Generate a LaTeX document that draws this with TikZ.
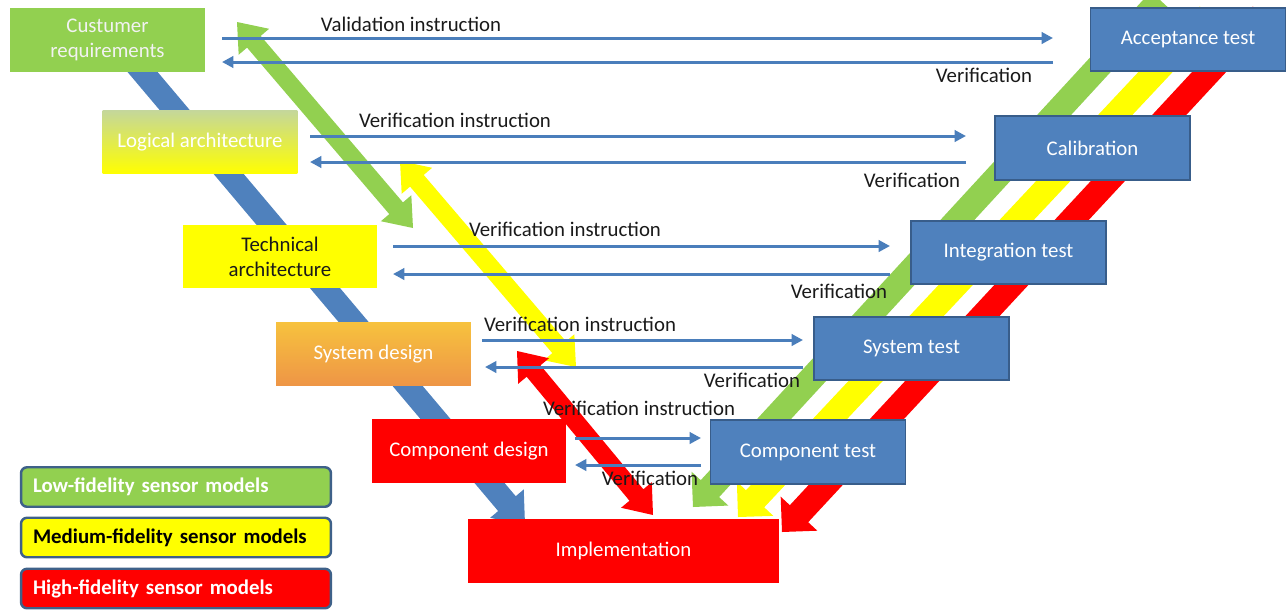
\documentclass[tikz,border=0pt]{standalone}
\usepackage{fontspec}
\setmainfont{Carlito}
\usetikzlibrary{calc,arrows.meta}

\definecolor{vgreen}{HTML}{92D050}
\definecolor{vyellow}{HTML}{FFFF00}
\definecolor{vred}{HTML}{FF0000}
\definecolor{vblue}{HTML}{4F81BD}
\definecolor{vblueedge}{HTML}{385D8A}
\definecolor{flowblue}{HTML}{4A7EBB}
\definecolor{logtop}{HTML}{C4D79B}
\definecolor{systop}{HTML}{F7C23E}
\definecolor{sysmid}{HTML}{F2A44A}
\definecolor{sysbot}{HTML}{EE9546}
\definecolor{legedge}{HTML}{3E6189}
\definecolor{ink}{HTML}{1A1A1A}

\newcommand\txtsize{\fontsize{11.85}{13.8}\selectfont}
\newcommand\twolinesize{\fontsize{11.85}{14.2}\selectfont}

% wide arrow: fill, tail, tip, shaft half-width, head half-width, head length
\newcommand\bandarrow[6]{%
  \path ($(#3)!#6!(#2)$) coordinate (hb);
  \fill[#1] ($(#2)!#4!90:(#3)$) -- ($(hb)!#4!90:(#3)$) -- ($(hb)!#5!90:(#3)$)
    -- (#3) -- ($(hb)!#5!-90:(#3)$) -- ($(hb)!#4!-90:(#3)$)
    -- ($(#2)!#4!-90:(#3)$) -- cycle;}

% wide arrow with a head at both ends
\newcommand\twowayarrow[6]{%
  \path ($(#3)!#6!(#2)$) coordinate (hb) ($(#2)!#6!(#3)$) coordinate (ha);
  \fill[#1] (#2) -- ($(ha)!#5!90:(#3)$) -- ($(ha)!#4!90:(#3)$)
    -- ($(hb)!#4!90:(#3)$) -- ($(hb)!#5!90:(#3)$) -- (#3)
    -- ($(hb)!#5!-90:(#3)$) -- ($(hb)!#4!-90:(#3)$)
    -- ($(ha)!#4!-90:(#3)$) -- ($(ha)!#5!-90:(#3)$) -- cycle;}

\begin{document}
\begin{tikzpicture}[x=0.02cm,y=-0.02cm,
  stage/.style={minimum width=3.9cm,minimum height=1.27cm,inner sep=0pt,
    align=center,font=\txtsize},
  testbox/.style={stage,fill=vblue,draw=vblueedge,line width=1pt,text=white},
  flow/.style={draw=flowblue,line width=1.7pt,-{Triangle[length=6.5pt,width=6.5pt]}},
  lbl/.style={font=\txtsize,text=ink,inner sep=0pt},
  legbox/.style={minimum width=6.2cm,minimum height=0.79cm,inner xsep=0.24cm,
    text width=5.72cm,align=left,rounded corners=0.12cm,draw=legedge,
    line width=1.4pt,font=\txtsize\bfseries}]

\useasboundingbox (0,0) rectangle (1288,610);
\clip (0,0) rectangle (1288,610);

% end points of the wide arrows
\coordinate (bl0) at (124,50);   \coordinate (bl1) at (525,525);
\coordinate (rg0) at (1160,0);   \coordinate (rg1) at (693,507);
\coordinate (ry0) at (1209,15);  \coordinate (ry1) at (738,517);
\coordinate (rr0) at (1262,15);  \coordinate (rr1) at (782,532);
\coordinate (dg0) at (237,22);   \coordinate (dg1) at (413,228);
\coordinate (dy0) at (400,161);  \coordinate (dy1) at (576,367);
\coordinate (dr0) at (517,351);  \coordinate (dr1) at (653,515);

% descending branch and the three ascending model branches
\bandarrow{vblue}{bl0}{bl1}{0.23cm}{0.44cm}{0.56cm}
\bandarrow{vgreen}{rg0}{rg1}{0.25cm}{0.5cm}{0.5cm}
\bandarrow{vyellow}{ry0}{ry1}{0.25cm}{0.5cm}{0.5cm}
\bandarrow{vred}{rr0}{rr1}{0.25cm}{0.5cm}{0.5cm}

% two-way arrows between the design levels
\twowayarrow{vgreen}{dg0}{dg1}{0.18cm}{0.4cm}{0.52cm}
\twowayarrow{vyellow}{dy0}{dy1}{0.18cm}{0.4cm}{0.52cm}
\twowayarrow{vred}{dr0}{dr1}{0.18cm}{0.4cm}{0.52cm}

% design side
\node[stage,fill=vgreen,text=white!95!black,font=\twolinesize] (cust) at (107.5,40)
  {Custumer\\requirements};
\node[stage,top color=logtop,bottom color=vyellow,text=white] (logic) at (200,142)
  {Logical architecture};
\node[stage,fill=vyellow,text=ink,font=\twolinesize] (tech) at (280,256.5)
  {Technical\\architecture};
\node[stage,top color=systop,middle color=sysmid,bottom color=sysbot,text=white]
  (sysd) at (373.5,354) {System design};
\node[stage,fill=vred,text=white] (compd) at (469,451) {Component design};
\node[stage,fill=vred,text=white,minimum width=6.22cm,minimum height=1.28cm]
  (impl) at (623.5,551) {Implementation};

% test side
\node[testbox] (acc) at (1188,39.5) {Acceptance test};
\node[testbox] (cal) at (1092.5,148) {Calibration};
\node[testbox] (integ) at (1008.5,252.5) {Integration test};
\node[testbox] (syst) at (911.5,348.5) {System test};
\node[testbox] (compt) at (808,452) {Component test};

% instruction / verification arrows
\coordinate (f1a) at (222,38);  \coordinate (f1b) at (1053,38);
\coordinate (v1a) at (1053,62); \coordinate (v1b) at (222,62);
\coordinate (f2a) at (310,136); \coordinate (f2b) at (966,136);
\coordinate (v2a) at (966,162); \coordinate (v2b) at (310,162);
\coordinate (f3a) at (393,246); \coordinate (f3b) at (890,246);
\coordinate (v3a) at (890,274); \coordinate (v3b) at (393,274);
\coordinate (f4a) at (482,340); \coordinate (f4b) at (803,340);
\coordinate (v4a) at (803,367); \coordinate (v4b) at (485,367);
\coordinate (f5a) at (575,438); \coordinate (f5b) at (701,438);
\coordinate (v5a) at (701,465); \coordinate (v5b) at (575,465);

\draw[flow] (f1a) -- (f1b);  \draw[flow] (v1a) -- (v1b);
\draw[flow] (f2a) -- (f2b);  \draw[flow] (v2a) -- (v2b);
\draw[flow] (f3a) -- (f3b);  \draw[flow] (v3a) -- (v3b);
\draw[flow] (f4a) -- (f4b);  \draw[flow] (v4a) -- (v4b);
\draw[flow] (f5a) -- (f5b);  \draw[flow] (v5a) -- (v5b);

\node[lbl] (t1) at (411,24)  {Validation instruction};
\node[lbl] (u1) at (984,75)  {Verification};
\node[lbl] (t2) at (455,120) {Verification instruction};
\node[lbl] (u2) at (912,180) {Verification};
\node[lbl] (t3) at (565,229) {Verification instruction};
\node[lbl] (u3) at (839,291) {Verification};
\node[lbl] (t4) at (580,324) {Verification instruction};
\node[lbl] (u4) at (752,380) {Verification};
\node[lbl] (t5) at (639,408) {Verification instruction};
\node[lbl] (u5) at (650,478) {Verification};

% legend
\node[legbox,fill=vgreen,text=white] (legLow) at (176,487) {Low-fidelity sensor models};
\node[legbox,fill=vyellow,text=black] (legMed) at (176,537.5) {Medium-fidelity sensor models};
\node[legbox,fill=vred,text=white] (legHigh) at (176,588.5) {High-fidelity sensor models};
\end{tikzpicture}
\end{document}
